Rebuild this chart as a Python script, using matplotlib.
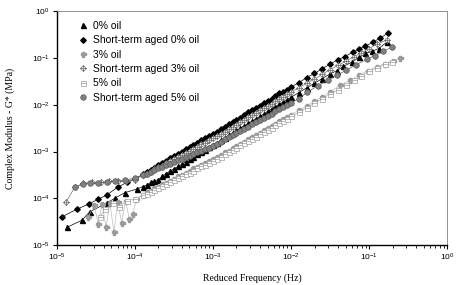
import matplotlib
matplotlib.use("Agg")
import matplotlib.pyplot as plt
from matplotlib.path import Path
import numpy as np

# values, as log10(frequency [Hz]) and log10(G* [MPa])

# shared grid for the dense middle part of the master curves
F_MID = [-3.90, -3.85, -3.80, -3.75, -3.70, -3.65, -3.60, -3.55, -3.50, -3.45,
         -3.40, -3.35, -3.30, -3.25, -3.20, -3.15, -3.10, -3.05, -3.00, -2.95,
         -2.90, -2.85, -2.80, -2.75, -2.70, -2.65, -2.60, -2.55, -2.50, -2.45,
         -2.40, -2.35, -2.30, -2.25, -2.20, -2.15, -2.10, -2.05, -2.00]

# 0% oil
f0_lo = [-4.87, -4.68, -4.58, -4.36, -4.26, -4.13, -3.97]
g0_lo = [-4.62, -4.47, -4.29, -4.10, -4.00, -3.88, -3.80]
g0_mid = [-3.75, -3.72, -3.66, -3.63, -3.60, -3.53, -3.47, -3.42, -3.37, -3.32,
          -3.27, -3.22, -3.16, -3.11, -3.06, -3.01, -2.96, -2.91, -2.86, -2.81,
          -2.76, -2.71, -2.65, -2.60, -2.55, -2.50, -2.45, -2.40, -2.35, -2.30,
          -2.25, -2.20, -2.14, -2.09, -2.04, -1.99, -1.94, -1.89, -1.84]
f0_hi = [-1.90, -1.80, -1.70, -1.60, -1.50, -1.41, -1.33, -1.22, -1.13, -1.05, -0.96, -0.88, -0.77]
g0_hi = [-1.74, -1.64, -1.54, -1.44, -1.34, -1.27, -1.18, -1.09, -0.99, -0.90, -0.86, -0.80, -0.66]

# short-term aged 0% oil
fa0_lo = [-4.94, -4.74, -4.59, -4.47, -4.36, -4.22, -4.10, -4.00]
ga0_lo = [-4.40, -4.23, -4.12, -4.02, -3.93, -3.76, -3.66, -3.58]
ga0_mid = [-3.49, -3.43, -3.39, -3.35, -3.29, -3.24, -3.20, -3.14, -3.10, -3.06,
           -3.00, -2.95, -2.91, -2.87, -2.81, -2.76, -2.72, -2.66, -2.62, -2.58,
           -2.52, -2.48, -2.41, -2.37, -2.32, -2.28, -2.22, -2.16, -2.12, -2.08,
           -2.02, -1.96, -1.92, -1.88, -1.82, -1.76, -1.72, -1.68, -1.62]
fa0_hi = [-1.90, -1.80, -1.70, -1.60, -1.50, -1.40, -1.31, -1.21, -1.13, -1.05, -0.95, -0.86, -0.76]
ga0_hi = [-1.53, -1.42, -1.33, -1.23, -1.13, -1.04, -0.97, -0.88, -0.81, -0.75, -0.66, -0.58, -0.47]

# 3% oil
f3_lo = [-4.60, -4.52, -4.47, -4.42, -4.37, -4.32, -4.27, -4.22, -4.17, -4.12, -4.07, -4.03, -3.98]
g3_lo = [-4.40, -4.15, -4.55, -4.12, -4.62, -4.10, -4.72, -4.08, -4.52, -4.05, -4.45, -4.34, -4.02]
g3_mid = [-3.92, -3.87, -3.84, -3.79, -3.75, -3.70, -3.67, -3.62, -3.58, -3.53,
          -3.50, -3.45, -3.41, -3.36, -3.33, -3.28, -3.25, -3.20, -3.16, -3.11,
          -3.07, -3.02, -2.98, -2.92, -2.88, -2.83, -2.79, -2.73, -2.69, -2.64,
          -2.60, -2.54, -2.50, -2.45, -2.41, -2.35, -2.31, -2.26, -2.21]
f3_hi = [-1.90, -1.80, -1.70, -1.60, -1.50, -1.37, -1.25, -1.13, -1.02, -0.90, -0.80, -0.70, -0.60]
g3_hi = [-2.12, -2.02, -1.93, -1.83, -1.73, -1.58, -1.48, -1.37, -1.27, -1.19, -1.12, -1.06, -1.00]

# short-term aged 3% oil
fa3_lo = [-4.88, -4.77, -4.66, -4.55, -4.44, -4.33, -4.22, -4.11, -4.00]
ga3_lo = [-4.08, -3.76, -3.68, -3.66, -3.66, -3.64, -3.64, -3.63, -3.60]
ga3_mid = [-3.51, -3.47, -3.43, -3.38, -3.33, -3.30, -3.25, -3.20, -3.16, -3.12,
           -3.07, -3.03, -2.98, -2.94, -2.90, -2.85, -2.81, -2.76, -2.72, -2.67,
           -2.62, -2.58, -2.52, -2.47, -2.43, -2.37, -2.33, -2.27, -2.23, -2.18,
           -2.12, -2.08, -2.03, -1.98, -1.92, -1.88, -1.83, -1.78, -1.73]
fa3_hi = [-1.90, -1.80, -1.70, -1.60, -1.50, -1.40, -1.30, -1.20, -1.10, -1.00, -0.90, -0.77]
ga3_hi = [-1.64, -1.54, -1.45, -1.35, -1.25, -1.16, -1.07, -0.98, -0.89, -0.80, -0.71, -0.61]

# 5% oil
f5_lo = [-4.45, -4.38, -4.28, -4.20, -4.10, -4.00]
g5_lo = [-4.40, -4.22, -4.10, -4.18, -4.05, -4.02]
g5_mid = [-3.94, -3.90, -3.86, -3.82, -3.77, -3.73, -3.69, -3.65, -3.61, -3.57,
          -3.53, -3.49, -3.45, -3.41, -3.36, -3.32, -3.28, -3.24, -3.20, -3.15,
          -3.11, -3.06, -3.01, -2.96, -2.92, -2.87, -2.82, -2.77, -2.73, -2.68,
          -2.63, -2.58, -2.54, -2.49, -2.44, -2.39, -2.35, -2.30, -2.25]
f5_hi = [-1.90, -1.80, -1.70, -1.60, -1.50, -1.40, -1.30, -1.20, -1.10, -1.00, -0.90, -0.80, -0.71]
g5_hi = [-2.16, -2.06, -1.97, -1.87, -1.77, -1.68, -1.58, -1.48, -1.38, -1.29, -1.21, -1.14, -1.08]

# short-term aged 5% oil
fa5_lo = [-4.77, -4.66, -4.58, -4.47, -4.36, -4.26, -4.13, -4.00]
ga5_lo = [-3.76, -3.70, -3.68, -3.68, -3.65, -3.63, -3.61, -3.57]
ga5_mid = [-3.50, -3.47, -3.43, -3.40, -3.36, -3.33, -3.29, -3.26, -3.23, -3.19,
           -3.16, -3.12, -3.09, -3.05, -3.02, -2.98, -2.95, -2.92, -2.88, -2.83,
           -2.79, -2.74, -2.70, -2.65, -2.60, -2.56, -2.51, -2.47, -2.42, -2.37,
           -2.33, -2.28, -2.24, -2.19, -2.14, -2.10, -2.05, -2.01, -1.96]
fa5_hi = [-1.90, -1.79, -1.66, -1.53, -1.41, -1.29, -1.17, -1.03, -0.93, -0.82, -0.71]
ga5_hi = [-1.87, -1.73, -1.60, -1.47, -1.37, -1.26, -1.15, -1.03, -0.95, -0.86, -0.77]


# markers that matplotlib does not have
def diamond_cross():
    verts = [(0, 1), (1, 0), (0, -1), (-1, 0), (0, 1),
             (0, 1), (0, -1), (-1, 0), (1, 0)]
    codes = [Path.MOVETO, Path.LINETO, Path.LINETO, Path.LINETO, Path.CLOSEPOLY,
             Path.MOVETO, Path.LINETO, Path.MOVETO, Path.LINETO]
    return Path(verts, codes)


def square_line():
    verts = [(-1, -1), (1, -1), (1, 1), (-1, 1), (-1, -1),
             (-1, 0), (1, 0)]
    codes = [Path.MOVETO, Path.LINETO, Path.LINETO, Path.LINETO, Path.CLOSEPOLY,
             Path.MOVETO, Path.LINETO]
    return Path(verts, codes)


def curve(f_lo, g_lo, g_mid, f_hi, g_hi):
    f = np.array(f_lo + F_MID + f_hi)
    g = np.array(g_lo + g_mid + g_hi)
    return 10.0 ** f, 10.0 ** g


plt.rcParams['mathtext.default'] = 'regular'

fig = plt.figure(figsize=(4.62, 2.85), dpi=100)
ax = fig.add_axes([0.123, 0.140, 0.845, 0.821])

series = [
    (curve(f0_lo, g0_lo, g0_mid, f0_hi, g0_hi), '0% oil',
     dict(marker='^', color='black', ms=3.6, mfc='black', mec='black', lw=0.5)),
    (curve(fa0_lo, ga0_lo, ga0_mid, fa0_hi, ga0_hi), 'Short-term aged 0% oil',
     dict(marker='D', color='black', ms=2.8, mfc='black', mec='black', lw=0.5)),
    (curve(f3_lo, g3_lo, g3_mid, f3_hi, g3_hi), '3% oil',
     dict(marker='P', color='#bdbdbd', ms=3.6, mfc='#9a9a9a', mec='#9a9a9a', lw=0.5)),
    (curve(fa3_lo, ga3_lo, ga3_mid, fa3_hi, ga3_hi), 'Short-term aged 3% oil',
     dict(marker=diamond_cross(), color='#707070', ms=4.2, mfc='white', mec='#707070', mew=0.5, lw=0.5)),
    (curve(f5_lo, g5_lo, g5_mid, f5_hi, g5_hi), '5% oil',
     dict(marker=square_line(), color='#b0b0b0', ms=3.6, mfc='white', mec='#a0a0a0', mew=0.5, lw=0.5)),
    (curve(fa5_lo, ga5_lo, ga5_mid, fa5_hi, ga5_hi), 'Short-term aged 5% oil',
     dict(marker='o', color='#606060', ms=4.0, mfc='#808080', mec='#5a5a5a', mew=0.5, lw=0.5)),
]

for (x, y), label, style in series:
    ax.plot(x, y, label=label, **style)

ax.set_xscale('log')
ax.set_yscale('log')
ax.set_xlim(1e-5, 1e0)
ax.set_ylim(1e-5, 1e0)

ax.xaxis.set_major_locator(matplotlib.ticker.LogLocator(base=10, numticks=10))
ax.xaxis.set_minor_locator(matplotlib.ticker.LogLocator(base=10, subs=np.arange(2, 10), numticks=10))
ax.yaxis.set_major_locator(matplotlib.ticker.LogLocator(base=10, numticks=10))
ax.yaxis.set_minor_locator(matplotlib.ticker.NullLocator())

ax.tick_params(axis='both', which='major', direction='out', length=3, width=0.8,
               labelsize=6, colors='black', pad=2)
ax.tick_params(axis='x', which='minor', direction='out', length=1.8, width=0.6)
for lab in ax.get_xticklabels() + ax.get_yticklabels():
    lab.set_family('Liberation Sans')

for side in ['top', 'right']:
    ax.spines[side].set_color('#808080')
    ax.spines[side].set_linewidth(0.6)
for side in ['left', 'bottom']:
    ax.spines[side].set_linewidth(1.0)

ax.set_xlabel('Reduced Frequency (Hz)', family='Liberation Serif', fontsize=7, labelpad=7)
ax.set_ylabel('Complex Modulus - G* (MPa)', family='Liberation Serif', fontsize=7, labelpad=12)

leg = ax.legend(loc='upper left', bbox_to_anchor=(0.04, 0.985), frameon=False,
                prop={'family': 'Liberation Sans', 'size': 7.5},
                handlelength=0.8, handletextpad=0.6, labelspacing=0.42,
                borderaxespad=0.2, numpoints=1)
for h in leg.legend_handles:
    h.set_linestyle('none')

fig.savefig('out.png', dpi=100)
